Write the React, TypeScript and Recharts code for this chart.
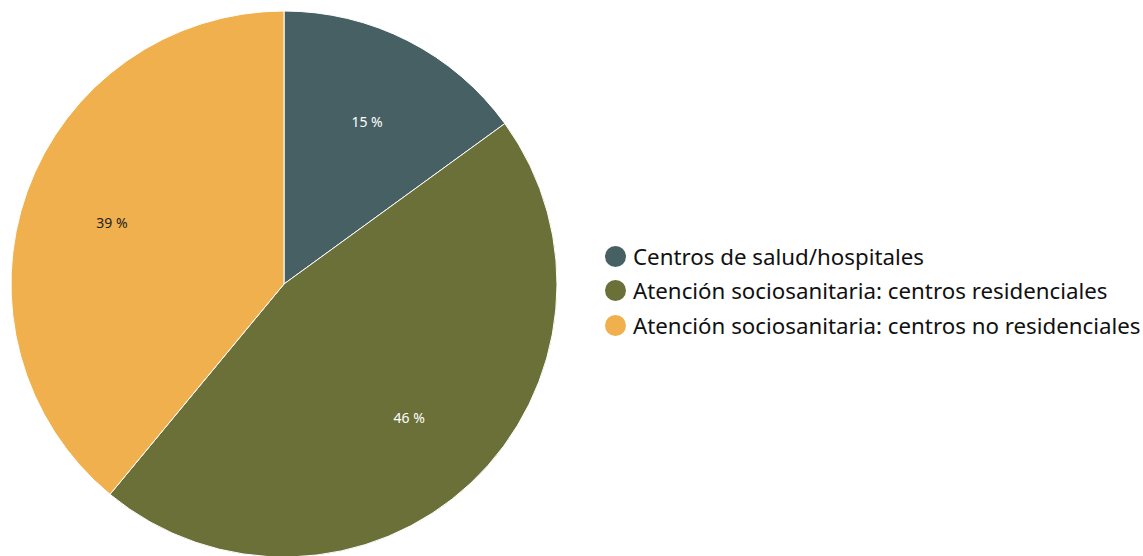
import React from "react";
import { PieChart, Pie, Cell, Legend } from "recharts";

const categories = [
  "Centros de salud/hospitales",
  "Atención sociosanitaria: centros residenciales",
  "Atención sociosanitaria: centros no residenciales",
];
const values = [15, 46, 39];
const colors = ["#476064", "#6b7038", "#efb04d"];
const labelColors = ["#ffffff", "#ffffff", "#222222"];

const data = categories.map((name, i) => ({ name, value: values[i] }));

const RAD = Math.PI / 180;
const FONT = "'Noto Sans', Lato, sans-serif";

const renderLabel = (props: any) => {
  const { cx, cy, midAngle, outerRadius, index, value } = props;
  const r = outerRadius * 0.67;
  const x = cx + r * Math.cos(-midAngle * RAD);
  const y = cy + r * Math.sin(-midAngle * RAD);
  return (
    <text
      x={x}
      y={y}
      fill={labelColors[index]}
      textAnchor="middle"
      dominantBaseline="central"
      fontSize={14}
      fontFamily={FONT}
    >
      {`${value} %`}
    </text>
  );
};

const renderLegend = () => (
  <div style={{ fontFamily: FONT, fontSize: 22.3, color: "#111" }}>
    {categories.map((c, i) => (
      <div key={c} style={{ display: "flex", alignItems: "center", height: 34.5 }}>
        <span
          style={{
            display: "inline-block",
            width: 21,
            height: 21,
            borderRadius: "50%",
            background: colors[i],
            marginRight: 7,
            flexShrink: 0,
          }}
        />
        <span style={{ whiteSpace: "nowrap" }}>{c}</span>
      </div>
    ))}
  </div>
);

export default function App() {
  return (
    <div style={{ position: "absolute", left: 0, top: 0, width: 1143, height: 556, overflow: "hidden" }}>
      <PieChart width={1143} height={556} margin={{ top: 0, right: 0, bottom: 0, left: 0 }}>
        <Pie
          data={data}
          dataKey="value"
          nameKey="name"
          cx={284}
          cy={284}
          outerRadius={273}
          startAngle={90}
          endAngle={-270}
          stroke="#ffffff"
          strokeWidth={1}
          label={renderLabel}
          labelLine={false}
          isAnimationActive={false}
        >
          {data.map((d, i) => (
            <Cell key={d.name} fill={colors[i]} />
          ))}
        </Pie>
        <Legend
          content={renderLegend}
          wrapperStyle={{ left: 605, top: 239, width: 538 }}
        />
      </PieChart>
    </div>
  );
}
